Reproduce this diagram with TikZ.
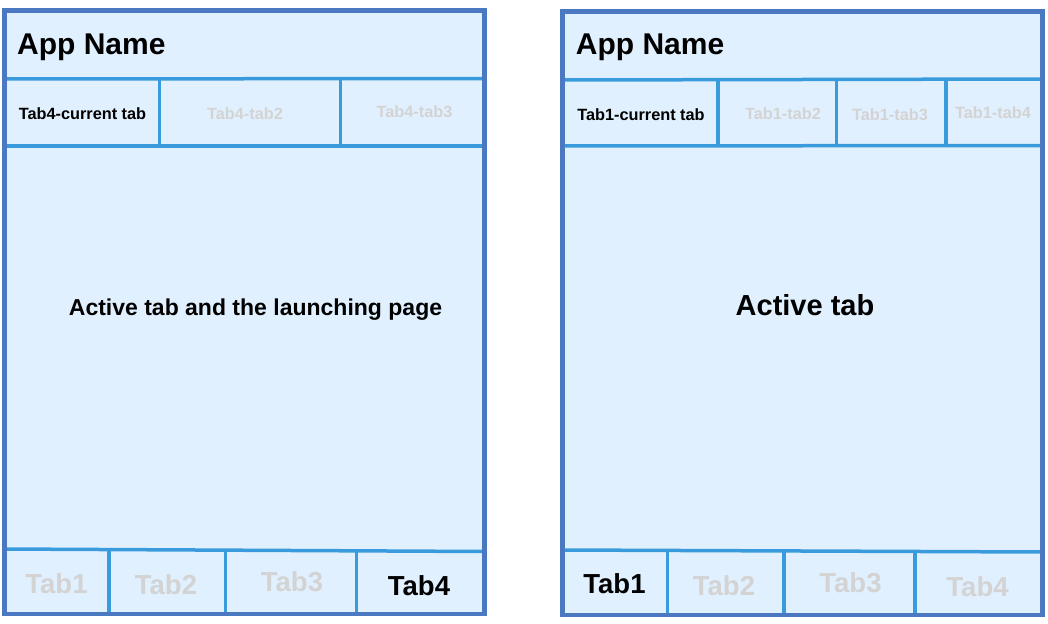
\documentclass[tikz,border=0pt]{standalone}
\usepackage{fontspec}
\setmainfont{Liberation Sans}
\usetikzlibrary{positioning}
\definecolor{frameblue}{HTML}{4A79C1}
\definecolor{lineblue}{HTML}{3A9BDC}
\definecolor{screenfill}{HTML}{E1F0FE}
\definecolor{dimgrey}{HTML}{D3D3D3}

\begin{document}
\begin{tikzpicture}[x=1pt, y=-1pt,
    frame/.style={draw=frameblue, line width=4.5pt},
    sep/.style={draw=lineblue, line width=3.5pt},
    appname/.style={font=\bfseries\fontsize{30}{36}\selectfont, anchor=base west, inner sep=0pt},
    toptab/.style={font=\bfseries\fontsize{16.3}{20}\selectfont, anchor=base},
    toptabdim/.style={toptab, text=dimgrey},
    bottab/.style={font=\bfseries\fontsize{27.5}{33}\selectfont, anchor=base},
    bottabdim/.style={bottab, text=dimgrey},
    body/.style={font=\bfseries, anchor=base}]
    \useasboundingbox (0,0) rectangle (1048,623);

    % left phone
    \fill[screenfill] (4.5,10.5) rectangle (484.5,614);
    \draw[sep] (4.5,79) -- (484.5,78.5);
    \draw[sep] (4.5,146) -- (484.5,146);
    \draw[sep] (4.5,549) -- (484.5,551.5);
    \draw[sep] (159.5,79) -- (159.5,146); \draw[sep] (340.5,78.5) -- (340.5,146);
    \draw[sep] (109,549) -- (109,614); \draw[sep] (225.5,549.5) -- (225.5,614);
    \draw[sep] (356.5,550.5) -- (356.5,614);
    \draw[frame] (4.5,10.5) rectangle (484.5,614);

    \node[appname] (lapp) at (17,55) {App Name};
    \node[toptab] (lcur) at (82.5,120) {Tab4-current tab};
    \node[toptabdim] (ltab2) at (245,119.3) {Tab4-tab2};
    \node[toptabdim] (ltab3) at (414.5,117.3) {Tab4-tab3};
    \node[body, font=\bfseries\fontsize{23}{28}\selectfont] (lbody) at (255.5,315)
        {Active tab and the launching page};
    \node[bottabdim] (lbot1) at (56.5,593.3) {Tab1};
    \node[bottabdim] (lbot2) at (166,594) {Tab2};
    \node[bottabdim] (lbot3) at (292,591.7) {Tab3};
    \node[bottab] (lbot4) at (419,595) {Tab4};

    % right phone
    \fill[screenfill] (562.5,11.5) rectangle (1042.5,615);
    \draw[sep] (562.5,80) -- (1042.5,79);
    \draw[sep] (562.5,146) -- (1042.5,145.5);
    \draw[sep] (562.5,550) -- (1042.5,552);
    \draw[sep] (718,80) -- (718,146); \draw[sep] (836.5,80) -- (836.5,146);
    \draw[sep] (946,79.5) -- (946,145.5);
    \draw[sep] (667.5,550) -- (667.5,615); \draw[sep] (784,550.5) -- (784,615);
    \draw[sep] (915,551.5) -- (915,615);
    \draw[frame] (562.5,11.5) rectangle (1042.5,615);

    \node[appname] (rapp) at (575.7,55) {App Name};
    \node[toptab] (rcur) at (641,120.7) {Tab1-current tab};
    \node[toptabdim] (rtab2) at (783,120) {Tab1-tab2};
    \node[toptabdim] (rtab3) at (890,120.7) {Tab1-tab3};
    \node[toptabdim] (rtab4) at (993,118.3) {Tab1-tab4};
    \node[body, font=\bfseries\fontsize{29}{35}\selectfont] (rbody) at (805,315)
        {Active tab};
    \node[bottab] (rbot1) at (614.5,593.3) {Tab1};
    \node[bottabdim] (rbot2) at (724,595) {Tab2};
    \node[bottabdim] (rbot3) at (850.5,592.7) {Tab3};
    \node[bottabdim] (rbot4) at (977.5,596) {Tab4};
  \end{tikzpicture}
\end{document}
